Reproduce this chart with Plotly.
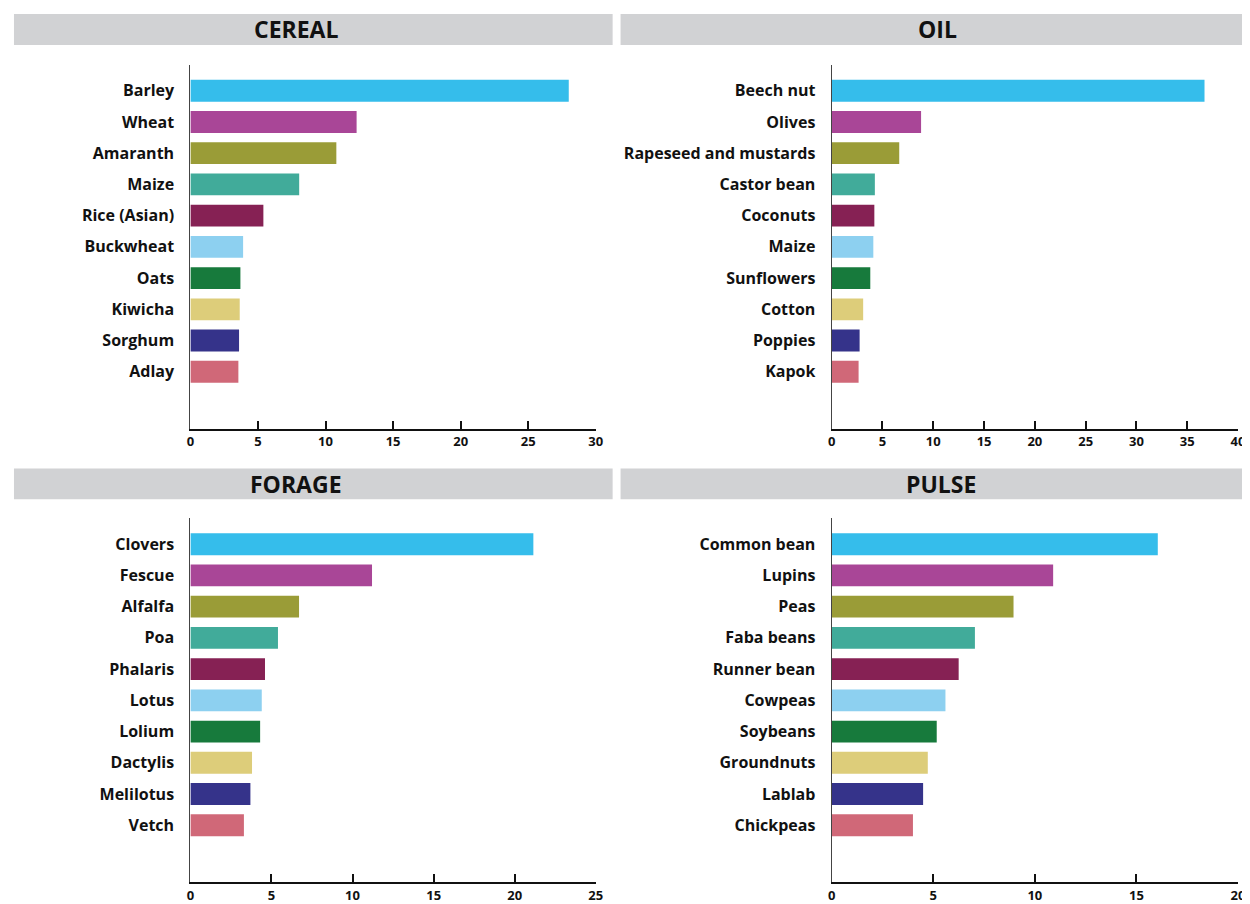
import plotly.graph_objects as go

colors = ["#35bdeb", "#a94697", "#9a9c37", "#41ab9a", "#862154",
          "#8dd0f0", "#177a3c", "#ddcd7a", "#35338a", "#d06878"]

cereal_names = ["Barley", "Wheat", "Amaranth", "Maize", "Rice (Asian)",
                "Buckwheat", "Oats", "Kiwicha", "Sorghum", "Adlay"]
cereal_values = [28.0, 12.3, 10.8, 8.05, 5.4, 3.9, 3.7, 3.65, 3.6, 3.55]

oil_names = ["Beech nut", "Olives", "Rapeseed and mustards", "Castor bean", "Coconuts",
             "Maize", "Sunflowers", "Cotton", "Poppies", "Kapok"]
oil_values = [36.7, 8.8, 6.65, 4.25, 4.2, 4.1, 3.8, 3.1, 2.75, 2.65]

forage_names = ["Clovers", "Fescue", "Alfalfa", "Poa", "Phalaris",
                "Lotus", "Lolium", "Dactylis", "Melilotus", "Vetch"]
forage_values = [21.15, 11.2, 6.7, 5.4, 4.6, 4.4, 4.3, 3.8, 3.7, 3.3]

pulse_names = ["Common bean", "Lupins", "Peas", "Faba beans", "Runner bean",
               "Cowpeas", "Soybeans", "Groundnuts", "Lablab", "Chickpeas"]
pulse_values = [16.05, 10.9, 8.95, 7.05, 6.25, 5.6, 5.17, 4.73, 4.5, 4.0]

panels = [
    ("CEREAL", cereal_names, cereal_values, 30, "x", "y"),
    ("OIL", oil_names, oil_values, 40, "x2", "y2"),
    ("FORAGE", forage_names, forage_values, 25, "x3", "y3"),
    ("PULSE", pulse_names, pulse_values, 20, "x4", "y4"),
]

OFF = 8  # page body margin
W, H = 1250 - OFF, 904 - OFF
# pixel geometry (page coords) of plot areas: (x0, x1, ytop, ybottom)
geo = [(188, 597, 65, 430), (835, 1245, 65, 430),
       (188, 597, 520, 885), (835, 1245, 520, 885)]
banners = [(10, 614, 14, 45, 295), (622, 1250, 14, 45, 942),
           (10, 614, 470, 501, 295), (622, 1250, 470, 501, 945)]


def px(x):
    return (x - OFF) / W


def py(y):
    return 1 - (y - OFF) / H


fig = go.Figure()
layout = dict(width=W, height=H, margin=dict(l=0, r=0, t=0, b=0),
              paper_bgcolor="white", plot_bgcolor="white", showlegend=False,
              shapes=[], annotations=[])

font_family = "Open Sans"
for i, (title, names, vals, xmax, xa, ya) in enumerate(panels):
    fig.add_trace(go.Bar(x=vals, y=names, orientation="h", xaxis=xa, yaxis=ya,
                         marker=dict(color=colors, line=dict(width=0)),
                         width=0.7, hoverinfo="x+y"))
    x0, x1, yt, yb = geo[i]
    xkey = "xaxis" if i == 0 else f"xaxis{i+1}"
    ykey = "yaxis" if i == 0 else f"yaxis{i+1}"
    layout[xkey] = dict(domain=[px(x0), px(x1)], range=[0, xmax], anchor=ya,
                        dtick=5, showgrid=False, zeroline=False,
                        showline=True, linecolor="#111", linewidth=2,
                        ticks="inside", ticklen=8, tickwidth=2, tickcolor="#111",
                        tickfont=dict(family=font_family, size=13, color="#111", weight=700),
                        fixedrange=True)
    layout[ykey] = dict(domain=[py(yb), py(yt)], anchor=xa,
                        type="category", categoryorder="array", categoryarray=names,
                        range=[10.82, -0.83], showgrid=False, zeroline=False,
                        showline=True, linecolor="#444", linewidth=1.2,
                        ticks="", ticklabelstandoff=12,
                        tickfont=dict(family=font_family, size=16, color="#111", weight=700),
                        fixedrange=True)
    bx0, bx1, by0, by1, tx = banners[i]
    layout["shapes"].append(dict(type="rect", xref="paper", yref="paper",
                                 x0=px(bx0), x1=px(bx1), y0=py(by1), y1=py(by0),
                                 fillcolor="#d1d2d4", line=dict(width=0), layer="below"))
    layout["annotations"].append(dict(text=title, xref="paper", yref="paper",
                                      x=px(tx), y=py((by0 + by1) / 2),
                                      xanchor="center", yanchor="middle", showarrow=False,
                                      font=dict(family=font_family, size=23, color="#111", weight=700)))

fig.update_layout(**layout)
fig.write_html("out.html")
